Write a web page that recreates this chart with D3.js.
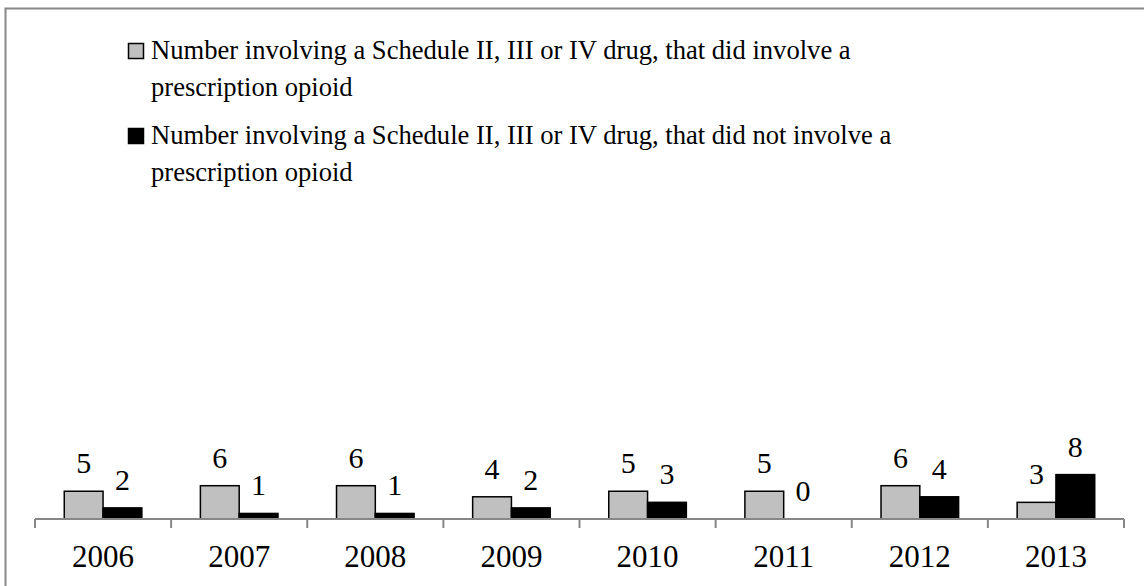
<!DOCTYPE html>
<html>
<head>
<meta charset="utf-8">
<script src="https://cdn.jsdelivr.net/npm/d3@7"></script>
<style>
  body { margin: 0; background: #fff; }
  text { font-family: "Liberation Serif", "Times New Roman", serif; fill: #000; }
</style>
</head>
<body>
<div id="wrapper"></div>
<script>
const years = ["2006", "2007", "2008", "2009", "2010", "2011", "2012", "2013"]
const didInvolve = [5, 6, 6, 4, 5, 5, 6, 3]
const didNotInvolve = [2, 1, 1, 2, 3, 0, 4, 8]
const seriesNames = [
    ["Number involving a Schedule II, III or IV drug, that did involve a", "prescription opioid"],
    ["Number involving a Schedule II, III or IV drug, that did not involve a", "prescription opioid"]
]
const seriesColors = ["#c0c0c0", "#000000"]

function build_chart() {
    var dimension = {
        width: 1144,
        height: 586,
        axisY: 519,
        left: 35,
        right: 1124
    }

    const svg = d3.select("#wrapper")
        .append("svg")
        .attr("width", dimension.width)
        .attr("height", dimension.height)

    // chart frame (right and bottom edges fall outside the picture)
    svg.append("rect")
        .attr("x", 5.5).attr("y", 8.5)
        .attr("width", 1160).attr("height", 600)
        .attr("fill", "none")
        .attr("stroke", "#878787")
        .attr("stroke-width", 2)

    const x = d3.scaleBand()
        .domain(years)
        .range([dimension.left, dimension.right])
        .paddingInner(0.43)
        .paddingOuter(0.215)

    const xInner = d3.scaleBand()
        .domain([0, 1])
        .range([0, x.bandwidth()])

    const y = d3.scaleLinear()
        .domain([0, 80])
        .range([dimension.axisY, 75])

    var data = []
    years.forEach((yr, i) => {
        data.push({year: yr, s: 0, v: didInvolve[i]})
        data.push({year: yr, s: 1, v: didNotInvolve[i]})
    })

    const bars = svg.append("g")
    bars.selectAll("rect")
        .data(data.filter(d => d.v > 0))
        .enter()
        .append("rect")
        .attr("x", d => x(d.year) + xInner(d.s))
        .attr("y", d => y(d.v))
        .attr("width", xInner.bandwidth())
        .attr("height", d => y(0) - y(d.v))
        .attr("fill", d => seriesColors[d.s])
        .attr("stroke", "#000")
        .attr("stroke-width", 1.5)

    bars.selectAll("text")
        .data(data)
        .enter()
        .append("text")
        .attr("x", d => x(d.year) + xInner(d.s) + xInner.bandwidth() / 2)
        .attr("y", d => y(d.v) - 18)
        .attr("text-anchor", "middle")
        .style("font-size", "30px")
        .text(d => d.v)

    // category axis with ticks between groups
    const step = x.step()
    const axisG = svg.append("g")
    axisG.append("line")
        .attr("x1", dimension.left).attr("x2", dimension.right)
        .attr("y1", dimension.axisY).attr("y2", dimension.axisY)
        .attr("stroke", "#878787").attr("stroke-width", 2)
    axisG.selectAll(".tick")
        .data(d3.range(years.length + 1))
        .enter()
        .append("line")
        .attr("x1", i => dimension.left + i * step)
        .attr("x2", i => dimension.left + i * step)
        .attr("y1", dimension.axisY)
        .attr("y2", dimension.axisY + 9)
        .attr("stroke", "#878787").attr("stroke-width", 2)
    axisG.selectAll("text")
        .data(years)
        .enter()
        .append("text")
        .attr("x", d => x(d) + x.bandwidth() / 2)
        .attr("y", 567)
        .attr("text-anchor", "middle")
        .style("font-size", "31px")
        .text(d => d)

    // legend
    const legend = svg.append("g")
        .selectAll("g")
        .data(seriesNames)
        .enter()
        .append("g")
        .attr("transform", (d, i) => `translate(128, ${43 + i * 85})`)
    legend.append("rect")
        .attr("x", 0.5).attr("y", 0.5)
        .attr("width", 15).attr("height", 15)
        .attr("fill", (d, i) => seriesColors[i])
        .attr("stroke", "#000")
        .attr("stroke-width", 1.5)
    legend.append("text")
        .attr("x", 23)
        .attr("y", 16)
        .style("font-size", "26.6px")
        .selectAll("tspan")
        .data(d => d)
        .enter()
        .append("tspan")
        .attr("x", 23)
        .attr("dy", (d, i) => i == 0 ? 0 : 37)
        .text(d => d)
}

build_chart();
</script>
</body>
</html>
